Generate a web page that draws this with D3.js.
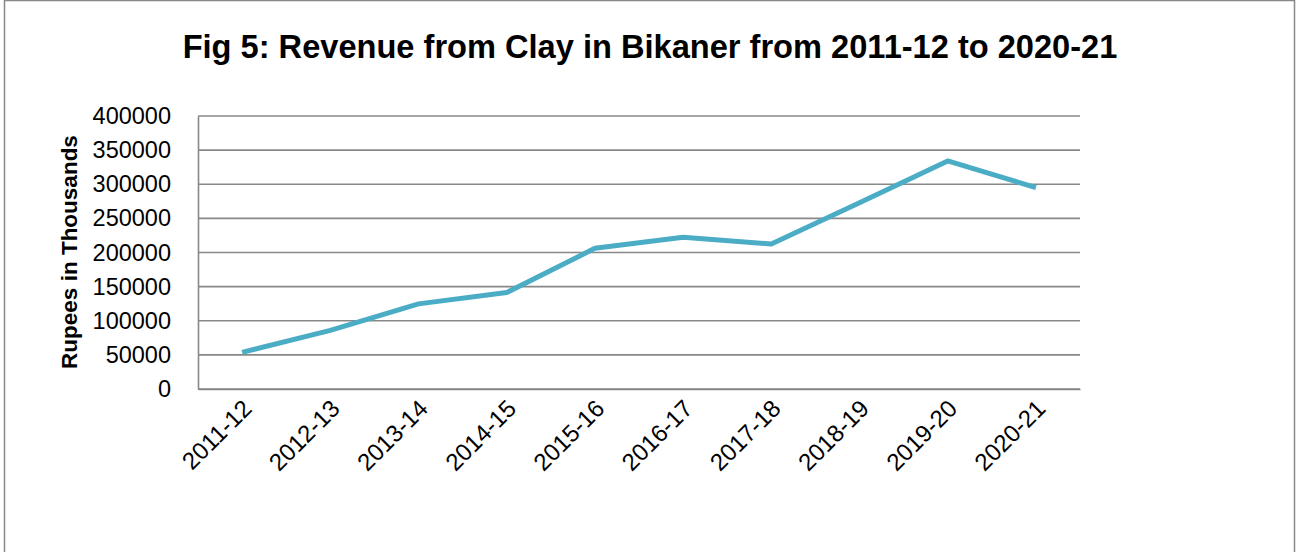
<!DOCTYPE html>
<html>
<head>
<meta charset="utf-8">
<script src="https://d3js.org/d3.v7.min.js"></script>
<style>
body { margin: 0; background: #fff; }
text { font-family: "Liberation Sans", Arial, sans-serif; fill: #000; }
</style>
</head>
<body>
<script>
// data
var years = ["2011-12", "2012-13", "2013-14", "2014-15", "2015-16",
             "2016-17", "2017-18", "2018-19", "2019-20", "2020-21"];
var revenue = [53600, 86000, 124700, 141300, 206100, 222200, 212400, 272800, 334200, 295200];
var yTicks = [0, 50000, 100000, 150000, 200000, 250000, 300000, 350000, 400000];

var W = 1297, H = 552;
var margin = {top: 116, right: 217, bottom: 163, left: 198};
var width = W - margin.left - margin.right,
    height = H - margin.top - margin.bottom;

var svg = d3.select("body").append("svg")
    .attr("width", W)
    .attr("height", H);

// outer frame
svg.append("rect")
    .attr("x", 4.5).attr("y", 0.5)
    .attr("width", 1290).attr("height", 560)
    .attr("fill", "none")
    .attr("stroke", "#888")
    .attr("stroke-width", 1.5);

// title, sized to span the same width as the original
var title = svg.append("text")
    .attr("x", 650).attr("y", 58)
    .attr("text-anchor", "middle")
    .style("font-weight", "bold")
    .style("font-size", "30px")
    .text("Fig 5: Revenue from Clay in Bikaner from 2011-12 to 2020-21");
var tw = title.node().getComputedTextLength();
title.style("font-size", (30 * 935 / tw) + "px");

var g = svg.append("g")
    .attr("transform", "translate(" + margin.left + "," + margin.top + ")");

var x = d3.scaleBand().domain(years).range([0, width]);
var y = d3.scaleLinear().domain([0, 400000]).range([height, 0]);

// gridlines
g.selectAll(".grid")
    .data(yTicks)
    .enter().append("line")
    .attr("x1", 0).attr("x2", width)
    .attr("y1", function(d) { return y(d); })
    .attr("y2", function(d) { return y(d); })
    .attr("stroke", "#888")
    .attr("stroke-width", 1.6);

// y axis
var yAxis = g.append("g")
    .call(d3.axisLeft(y).tickValues(yTicks).tickSize(0).tickPadding(27).tickFormat(d3.format("d")));
yAxis.select(".domain").attr("stroke", "#888").attr("stroke-width", 1.6);
yAxis.selectAll("text")
    .style("font-size", "23.5px")
    .style("font-family", "Liberation Sans, Arial, sans-serif")
    .attr("fill", "#000");

// x axis
var xAxis = g.append("g")
    .attr("transform", "translate(0," + height + ")")
    .call(d3.axisBottom(x).tickSize(0).tickPadding(0));
xAxis.select(".domain").attr("stroke", "#888").attr("stroke-width", 1.6);
xAxis.selectAll("text")
    .style("font-size", "24px")
    .style("font-family", "Liberation Sans, Arial, sans-serif")
    .attr("fill", "#000")
    .attr("text-anchor", "end")
    .attr("dy", 0)
    .attr("y", 0)
    .attr("transform", "translate(11,21) rotate(-45)");

// y axis title
svg.append("text")
    .attr("transform", "translate(77,252) rotate(-90)")
    .attr("text-anchor", "middle")
    .style("font-weight", "bold")
    .style("font-size", "22.5px")
    .text("Rupees in Thousands");

// the line
var line = d3.line()
    .x(function(d, i) { return x(years[i]) + x.bandwidth() / 2; })
    .y(function(d) { return y(d); });

g.append("path")
    .datum(revenue)
    .attr("d", line)
    .attr("fill", "none")
    .attr("stroke", "#4BACC6")
    .attr("stroke-width", 5)
    .attr("stroke-linejoin", "round");
</script>
</body>
</html>
